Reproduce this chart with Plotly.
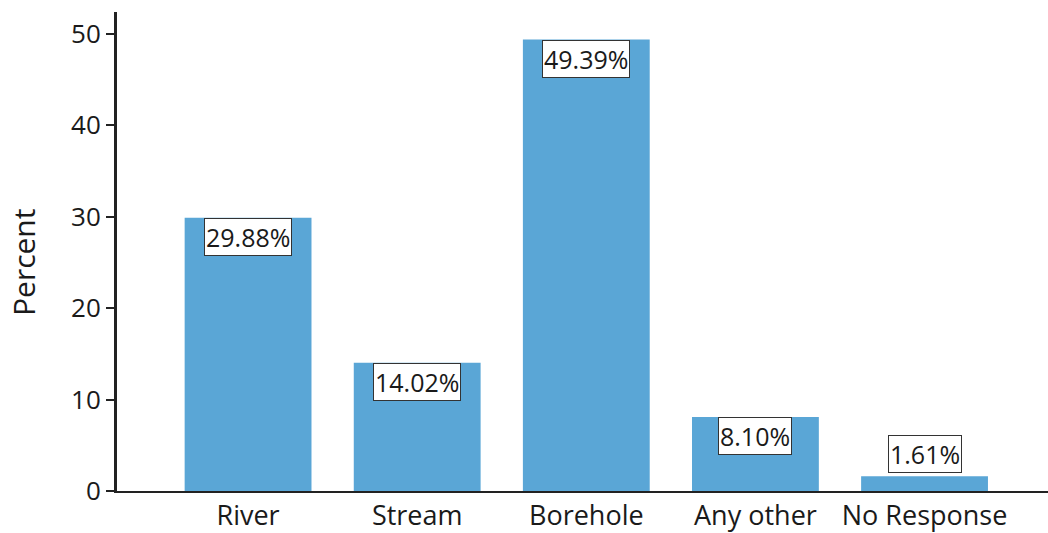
import plotly.graph_objects as go

# Water source shares (%)
sources = ["River", "Stream", "Borehole", "Any other", "No Response"]
percent = [29.88, 14.02, 49.39, 8.10, 1.61]
y_ticks = [0, 10, 20, 30, 40, 50]

FONT = "Open Sans"
BAR_COLOR = "#5aa6d6"
AXIS_COLOR = "#222222"
TEXT_COLOR = "#1a1a1a"

fig = go.Figure(
    go.Bar(
        x=sources,
        y=percent,
        width=0.75,
        marker=dict(color=BAR_COLOR, line=dict(width=0)),
        hoverinfo="x+y",
    )
)

# Value labels in boxes at the top of each bar; the tiny bar gets its label above
for name, v in zip(sources, percent):
    above = v < 5
    fig.add_annotation(
        x=name,
        y=v,
        xref="x",
        yref="y",
        text=f"{v:.2f}%",
        showarrow=False,
        yanchor="bottom" if above else "top",
        yshift=3 if above else 0,
        font=dict(family=FONT, size=25, color=TEXT_COLOR),
        bgcolor="white",
        bordercolor="#333333",
        borderwidth=1,
        borderpad=1,
    )

# Y axis title
fig.add_annotation(
    x=-0.101,
    y=0.478,
    xref="paper",
    yref="paper",
    text="Percent",
    textangle=-90,
    showarrow=False,
    xanchor="center",
    yanchor="middle",
    font=dict(family=FONT, size=30, color=TEXT_COLOR),
)

fig.update_layout(
    width=1048,
    height=533,
    margin=dict(l=117, r=0, t=12, b=42),
    paper_bgcolor="white",
    plot_bgcolor="white",
    showlegend=False,
    font=dict(family=FONT, size=26, color=TEXT_COLOR),
)

fig.update_xaxes(
    range=[-0.775, 4.73],
    showline=True,
    linecolor=AXIS_COLOR,
    linewidth=2,
    showgrid=False,
    ticks="",
    ticklabelstandoff=0,
    tickfont=dict(family=FONT, size=27, color=TEXT_COLOR),
    automargin=False,
    fixedrange=True,
)

fig.update_yaxes(
    range=[0, 52.4],
    tickvals=y_ticks,
    showline=True,
    linecolor=AXIS_COLOR,
    linewidth=3,
    showgrid=False,
    zeroline=False,
    ticks="outside",
    ticklen=8,
    tickwidth=2,
    tickcolor=AXIS_COLOR,
    tickfont=dict(family=FONT, size=26, color=TEXT_COLOR),
    automargin=False,
    fixedrange=True,
)

fig.write_html("out.html")
